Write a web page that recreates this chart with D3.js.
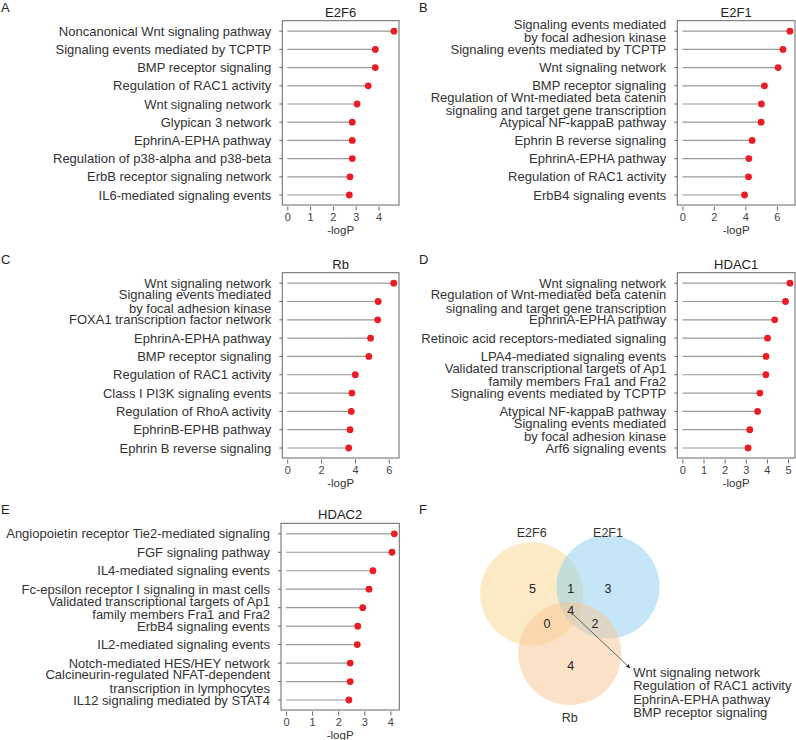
<!DOCTYPE html>
<html>
<head>
<meta charset="utf-8">
<script src="https://cdn.jsdelivr.net/npm/d3@7"></script>
<style>
  body { margin: 0; background: #fff; }
  text { font-family: "Liberation Sans", Arial, sans-serif; }
</style>
</head>
<body>
<div id="fig"></div>
<script>
// Pathway terms (top to bottom) and -logP values for each factor
let e2f6Terms = ['Noncanonical Wnt signaling pathway', 'Signaling events mediated by TCPTP', 'BMP receptor signaling',
    'Regulation of RAC1 activity', 'Wnt signaling network', 'Glypican 3 network', 'EphrinA-EPHA pathway',
    'Regulation of p38-alpha and p38-beta', 'ErbB receptor signaling network', 'IL6-mediated signaling events'];
let e2f6Values = [4.68, 3.86, 3.86, 3.55, 3.06, 2.85, 2.85, 2.85, 2.75, 2.72];

let e2f1Terms = ['Signaling events mediated\nby focal adhesion kinase', 'Signaling events mediated by TCPTP', 'Wnt signaling network',
    'BMP receptor signaling', 'Regulation of Wnt-mediated beta catenin\nsignaling and target gene transcription',
    'Atypical NF-kappaB pathway', 'Ephrin B reverse signaling', 'EphrinA-EPHA pathway', 'Regulation of RAC1 activity',
    'ErbB4 signaling events'];
let e2f1Values = [6.83, 6.39, 6.08, 5.21, 5.02, 5.0, 4.43, 4.22, 4.2, 3.95];

let rbTerms = ['Wnt signaling network', 'Signaling events mediated\nby focal adhesion kinase', 'FOXA1 transcription factor network',
    'EphrinA-EPHA pathway', 'BMP receptor signaling', 'Regulation of RAC1 activity', 'Class I PI3K signaling events',
    'Regulation of RhoA activity', 'EphrinB-EPHB pathway', 'Ephrin B reverse signaling'];
let rbValues = [6.29, 5.37, 5.34, 4.92, 4.82, 4.02, 3.82, 3.78, 3.71, 3.63];

let hdac1Terms = ['Wnt signaling network', 'Regulation of Wnt-mediated beta catenin\nsignaling and target gene transcription',
    'EphrinA-EPHA pathway', 'Retinoic acid receptors-mediated signaling', 'LPA4-mediated signaling events',
    'Validated transcriptional targets of Ap1\nfamily members Fra1 and Fra2', 'Signaling events mediated by TCPTP',
    'Atypical NF-kappaB pathway', 'Signaling events mediated\nby focal adhesion kinase', 'Arf6 signaling events'];
let hdac1Values = [5.09, 4.88, 4.37, 4.03, 3.96, 3.95, 3.67, 3.56, 3.19, 3.11];

let hdac2Terms = ['Angiopoietin receptor Tie2-mediated signaling', 'FGF signaling pathway', 'IL4-mediated signaling events',
    'Fc-epsilon receptor I signaling in mast cells', 'Validated transcriptional targets of Ap1\nfamily members Fra1 and Fra2',
    'ErbB4 signaling events', 'IL2-mediated signaling events', 'Notch-mediated HES/HEY network',
    'Calcineurin-regulated NFAT-dependent\ntranscription in lymphocytes', 'IL12 signaling mediated by STAT4'];
let hdac2Values = [4.15, 4.06, 3.33, 3.18, 2.94, 2.75, 2.73, 2.46, 2.46, 2.41];

// Axis ticks per panel
let ticksA = [0, 1, 2, 3, 4];
let ticksB = [0, 2, 4, 6];
let ticksC = [0, 2, 4, 6];
let ticksD = [0, 1, 2, 3, 4, 5];
let ticksE = [0, 1, 2, 3, 4];

// Venn data
let vennSets = ['E2F6', 'E2F1', 'Rb'];
let vennCounts = [5, 1, 3, 4, 0, 2, 4]; // E2F6 only, E2F6&E2F1, E2F1 only, all, E2F6&Rb, E2F1&Rb, Rb only
let sharedTerms = ['Wnt signaling network', 'Regulation of RAC1 activity', 'EphrinA-EPHA pathway', 'BMP receptor signaling'];

let svgWidth = 796;
let svgHeight = 740;
let svg = d3.select('#fig').append('svg')
    .attr('width', svgWidth)
    .attr('height', svgHeight);

let textColor = '#333';
let dotColor = '#ec1c24';

function lollipop(cfg) {
    let g = svg.append('g');
    let x = d3.scaleLinear().domain(cfg.domain).range([cfg.left, cfg.right]);
    let y = d3.scalePoint().domain(d3.range(cfg.values.length)).range([cfg.top + 10.5, cfg.bottom - 10]);

    // frame
    g.append('rect')
        .attr('x', cfg.left).attr('y', cfg.top)
        .attr('width', cfg.right - cfg.left).attr('height', cfg.bottom - cfg.top)
        .attr('fill', 'none').attr('stroke', '#666').attr('stroke-width', 1);

    // title
    g.append('text')
        .attr('x', (cfg.left + cfg.right) / 2).attr('y', cfg.top - 4)
        .attr('text-anchor', 'middle')
        .style('font-size', '13px').attr('fill', '#222')
        .text(cfg.title);

    // y ticks + labels
    cfg.values.forEach((v, i) => {
        g.append('line')
            .attr('x1', cfg.left - 3).attr('x2', cfg.left)
            .attr('y1', y(i)).attr('y2', y(i))
            .attr('stroke', '#666');
        let lines = cfg.terms[i].split('\n');
        let t = g.append('text')
            .attr('x', cfg.left - 11)
            .attr('y', y(i))
            .attr('text-anchor', 'end')
            .style('font-size', '13px').attr('fill', textColor);
        lines.forEach((ln, k) => {
            t.append('tspan')
                .attr('x', cfg.left - 11)
                .attr('y', y(i) + 4.5 + (k - (lines.length - 1) / 2) * 13.2)
                .text(ln);
        });
    });

    // stems
    g.selectAll('line.stem').data(cfg.values).enter()
        .append('line')
        .attr('class', 'stem')
        .attr('x1', x(0)).attr('x2', d => x(d))
        .attr('y1', (d, i) => y(i)).attr('y2', (d, i) => y(i))
        .attr('stroke', '#999').attr('stroke-width', 1.2);

    // dots
    g.selectAll('circle.dot').data(cfg.values).enter()
        .append('circle')
        .attr('class', 'dot')
        .attr('cx', d => x(d)).attr('cy', (d, i) => y(i))
        .attr('r', 3.4)
        .attr('fill', dotColor);

    // x axis (ticks below the frame)
    let xAxis = d3.axisBottom(x).tickValues(cfg.ticks).tickSize(4).tickPadding(3).tickFormat(d3.format('d'));
    let ax = g.append('g')
        .attr('transform', `translate(0, ${cfg.bottom + 1.5})`)
        .call(xAxis);
    ax.select('.domain').remove();
    ax.selectAll('line').attr('stroke', '#666');
    ax.selectAll('text').style('font-size', '11px').attr('fill', '#444')
        .style('font-family', '"Liberation Sans", Arial, sans-serif');

    g.append('text')
        .attr('x', (cfg.left + cfg.right) / 2).attr('y', cfg.bottom + 29)
        .attr('text-anchor', 'middle')
        .style('font-size', '11.5px').attr('fill', '#333')
        .text('-logP');
}

lollipop({title: 'E2F6', terms: e2f6Terms, values: e2f6Values, ticks: ticksA,
    left: 282.3, right: 399, top: 20.7, bottom: 205, domain: [-0.22, 4.9]});
lollipop({title: 'E2F1', terms: e2f1Terms, values: e2f1Values, ticks: ticksB,
    left: 677.3, right: 795, top: 20.7, bottom: 205, domain: [-0.32, 7.15]});
lollipop({title: 'Rb', terms: rbTerms, values: rbValues, ticks: ticksC,
    left: 282.3, right: 399, top: 272.7, bottom: 458, domain: [-0.29, 6.6]});
lollipop({title: 'HDAC1', terms: hdac1Terms, values: hdac1Values, ticks: ticksD,
    left: 677.3, right: 795, top: 272.7, bottom: 458, domain: [-0.24, 5.33]});
lollipop({title: 'HDAC2', terms: hdac2Terms, values: hdac2Values, ticks: ticksE,
    left: 281, right: 399.3, top: 523.3, bottom: 710, domain: [-0.19, 4.34]});

// Panel letters
let panelLetters = [['A', 1, 12], ['B', 419, 12], ['C', 1, 264], ['D', 419, 264], ['E', 1, 514], ['F', 419, 514]];
svg.selectAll('text.panel').data(panelLetters).enter()
    .append('text')
    .attr('class', 'panel')
    .attr('x', d => d[1]).attr('y', d => d[2])
    .style('font-size', '13px').attr('fill', '#222')
    .text(d => d[0]);

// Venn diagram (F)
let vx = d3.scaleLinear().domain([0, 1]).range([531.7, 608]);
let vy = d3.scaleLinear().domain([0, 1]).range([590, 653.5]);
let vr = 51.5;
let vennCircles = [
    {name: vennSets[0], cx: 0, cy: 0.06, fill: '#f7d68c', lx: 0, ly: -0.9},
    {name: vennSets[1], cx: 1, cy: -0.05, fill: '#8ccdf0', lx: 1, ly: -0.9},
    {name: vennSets[2], cx: 0.5, cy: 1, fill: '#fac393', lx: 0.5, ly: 2.0}
];
let vg = svg.append('g');
vg.selectAll('circle').data(vennCircles).enter()
    .append('circle')
    .attr('cx', d => vx(d.cx)).attr('cy', d => vy(d.cy))
    .attr('r', vr)
    .attr('fill', d => d.fill)
    .attr('fill-opacity', 0.5);
vg.selectAll('text.setname').data(vennCircles).enter()
    .append('text')
    .attr('class', 'setname')
    .attr('x', d => vx(d.lx)).attr('y', d => vy(d.ly) + 4.5)
    .attr('text-anchor', 'middle')
    .style('font-size', '12.5px').attr('fill', textColor)
    .text(d => d.name);

// region label positions (venn units)
let regionPos = [[0.01, -0.02], [0.51, -0.02], [1.0, -0.02], [0.51, 0.33], [0.2, 0.52], [0.83, 0.52], [0.51, 1.19]];
vg.selectAll('text.count').data(vennCounts).enter()
    .append('text')
    .attr('class', 'count')
    .attr('x', (d, i) => vx(regionPos[i][0])).attr('y', (d, i) => vy(regionPos[i][1]) + 4.5)
    .attr('text-anchor', 'middle')
    .style('font-size', '12.5px').attr('fill', '#222')
    .text(d => d);

// arrow from center region to the shared term list
svg.append('defs').append('marker')
    .attr('id', 'arrow').attr('viewBox', '0 0 10 10')
    .attr('refX', 9).attr('refY', 5)
    .attr('markerWidth', 6).attr('markerHeight', 6)
    .attr('orient', 'auto')
    .append('path').attr('d', 'M0,1 L10,5 L0,9 Z').attr('fill', '#333');
vg.append('line')
    .attr('x1', vx(0.54)).attr('y1', vy(0.38))
    .attr('x2', vx(1.29)).attr('y2', vy(1.23))
    .attr('stroke', '#444').attr('stroke-width', 0.8)
    .attr('marker-end', 'url(#arrow)');

vg.selectAll('text.shared').data(sharedTerms).enter()
    .append('text')
    .attr('class', 'shared')
    .attr('x', vx(1.33))
    .attr('y', (d, i) => 676.5 + i * 13.5)
    .style('font-size', '13px').attr('fill', textColor)
    .text(d => d);
</script>
</body>
</html>
